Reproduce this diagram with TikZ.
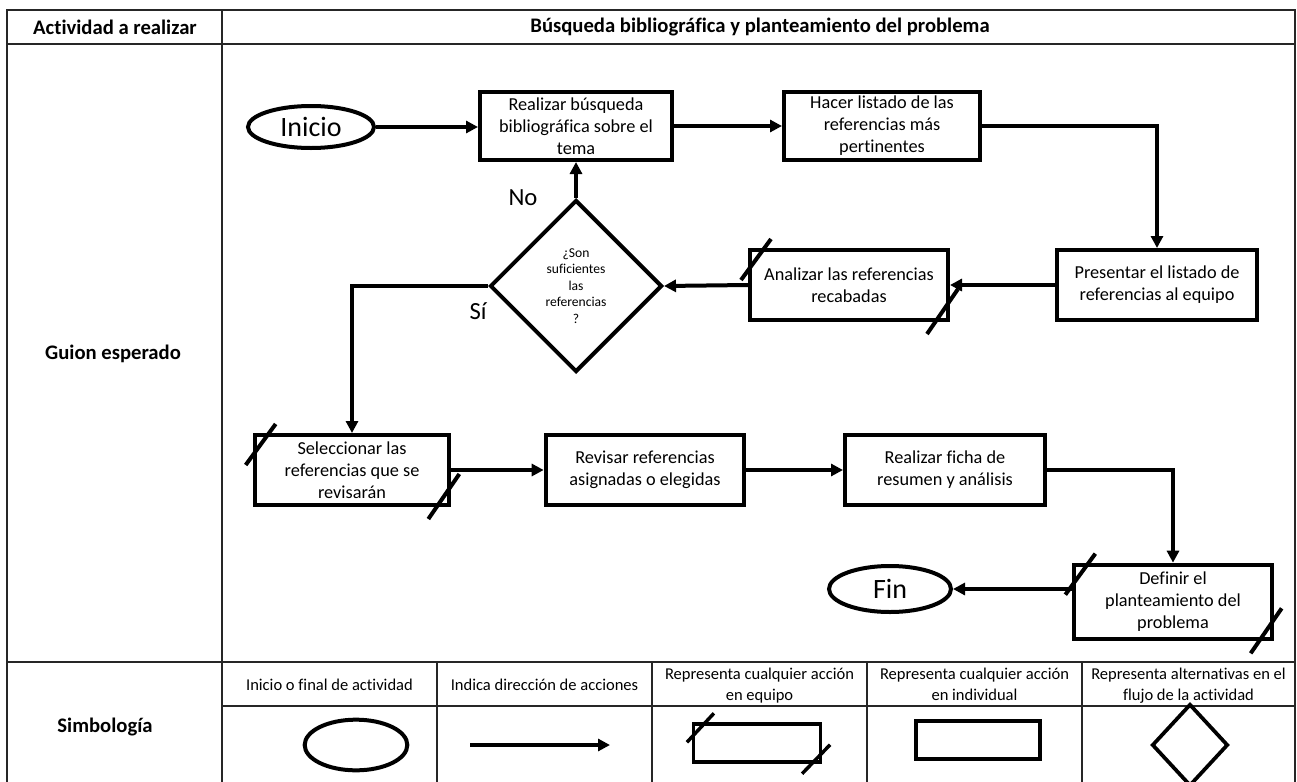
\documentclass[tikz,border=0pt]{standalone}
\usepackage{fontspec}
\setmainfont{Carlito}[Ligatures=NoCommon]
\usetikzlibrary{arrows.meta,shapes.geometric,calc}
\begin{document}
\begin{tikzpicture}[x=0.75pt,y=-0.75pt,
  grid/.style={line width=1.1pt, draw=black!85},
  procbox/.style={draw, line width=3pt, rectangle, inner sep=1pt, align=center,
    font=\fontsize{13.7}{16.5}\selectfont},
  term/.style={draw, line width=3pt, ellipse, inner sep=0pt, font=\fontsize{21}{24}\selectfont},
  decision/.style={draw, line width=3pt, diamond, inner sep=0pt, align=center,
    font=\fontsize{10.2}{12.4}\selectfont},
  conn/.style={line width=3pt, -{Triangle[length=9pt,width=9pt]}},
  slashline/.style={line width=3pt},
  hdr/.style={font=\bfseries\fontsize{15.5}{18}\selectfont},
  lbl/.style={font=\fontsize{18.5}{22}\selectfont},
  leg/.style={align=center, inner sep=0pt, font=\fontsize{12.4}{15.75}\selectfont},
]
\useasboundingbox (0,0) rectangle (1297,782);

% ---------- table grid ----------
\draw[grid] (7,782) -- (7,10) -- (1295,10) -- (1295,782);
\draw[grid] (7,44) -- (1295,44);
\draw[grid] (7,662) -- (1295,662);
\draw[grid] (222,10) -- (222,782);
\draw[grid] (222,706) -- (1295,706);
\foreach \xx in {437,652,867,1082} \draw[grid] (\xx,662) -- (\xx,782);

% ---------- header texts ----------
\node[hdr] (h1) at (115,27) {Actividad a realizar};
\node[hdr] (h2) at (760,27) {Búsqueda bibliográfica y planteamiento del problema};
\node[hdr] (g) at (113,354) {Guion esperado};
\node[hdr] (s) at (105,727) {Simbología};

% ---------- flowchart nodes ----------
\node[term, minimum width=94.5pt, minimum height=31.5pt] (ini) at (311,127) {Inicio};
\node[procbox, minimum width=144pt, minimum height=51pt] (b1) at (576,126)
  {Realizar búsqueda\\bibliográfica sobre el\\tema};
\node[procbox, minimum width=147pt, minimum height=51pt] (b2) at (882,126)
  {Hacer listado de las\\referencias más\\pertinentes};
\node[procbox, minimum width=150pt, minimum height=52.5pt] (b3) at (1157,285)
  {Presentar el listado de\\referencias al equipo};
\node[procbox, minimum width=148.5pt, minimum height=52.5pt] (b4) at (849,285)
  {Analizar las referencias\\recabadas};
\node[decision, minimum width=129pt, minimum height=129pt, text width=62pt] (d) at (576,286)
  {¿Son\\suficientes\\las\\referencias\\?};
\node[procbox, minimum width=146pt, minimum height=52.5pt] (b5) at (352,470)
  {Seleccionar las\\referencias que se\\revisarán};
\node[procbox, minimum width=149pt, minimum height=52.5pt] (b6) at (645,470)
  {Revisar referencias\\asignadas o elegidas};
\node[procbox, minimum width=150pt, minimum height=52.5pt] (b7) at (945,470)
  {Realizar ficha de\\resumen y análisis};
\node[procbox, minimum width=148pt, minimum height=56pt] (b8) at (1173,602)
  {Definir el\\planteamiento del\\problema};
\node[term, minimum width=91.5pt, minimum height=34.5pt] (fin) at (890,589) {Fin};

\node[lbl] (no) at (523,198) {No};
\node[lbl] (si) at (478,311) {Sí};

% team slashes
\newcommand\teamslashes[1]{%
  \draw[slashline] ($(#1.north west)+(-7,32)$) -- ($(#1.north west)+(23,-9)$);
  \draw[slashline] ($(#1.south east)+(-23,12)$) -- ($(#1.south east)+(8,-33)$);}
\teamslashes{b4}
\teamslashes{b5}
\teamslashes{b8}

% ---------- connectors ----------
\draw[conn] (ini.east) -- (ini.east -| b1.west);
\draw[conn] (b1.east) -- (b2.west);
\draw[conn] (b2.east) -| (b3.north);
\draw[conn] (b3.west) -- (b4.east);
\draw[conn] (b4.west) -- (d.east);
\draw[conn] (d.north) -- (d.north |- b1.south);
\draw[conn] (d.west) -| (b5.north);
\draw[conn] (b5.east) -- (b6.west);
\draw[conn] (b6.east) -- (b7.west);
\draw[conn] (b7.east) -| (b8.north);
\draw[conn] (b8.west |- fin.east) -- (fin.east);

% ---------- legend ----------
\node[leg] (l1) at (329.5,686) {\strut Inicio o final de actividad};
\node[leg] (l2) at (544.5,686) {\strut Indica dirección de acciones};
\node[leg] (l3) at (759.5,686) {\strut Representa cualquier acción\\\strut en equipo};
\node[leg] (l4) at (974.5,686) {\strut Representa cualquier acción\\\strut en individual};
\node[leg] (l5) at (1188.5,686) {\strut Representa alternativas en el\\\strut flujo de la actividad};

\node[term, minimum width=77pt, minimum height=38pt] (le) at (356,745) {};
\coordinate (la1) at (470,745);
\coordinate (la2) at (610,745);
\draw[conn] (la1) -- (la2);
\node[draw, line width=2.6pt, minimum width=95pt, minimum height=28.5pt, inner sep=0pt] (lt) at (757,743) {};
\draw[line width=2.6pt] ($(lt.north west)+(-5,20)$) -- ($(lt.north west)+(22,-9)$);
\draw[line width=2.6pt] ($(lt.south east)+(-20,10)$) -- ($(lt.south east)+(8,-19)$);
\node[draw, line width=2.8pt, minimum width=93pt, minimum height=29pt, inner sep=0pt] (li) at (978,740) {};
\node[draw, line width=2.8pt, diamond, minimum width=57pt, minimum height=61.5pt, inner sep=0pt] (ld) at (1190,745) {};
\end{tikzpicture}
\end{document}
